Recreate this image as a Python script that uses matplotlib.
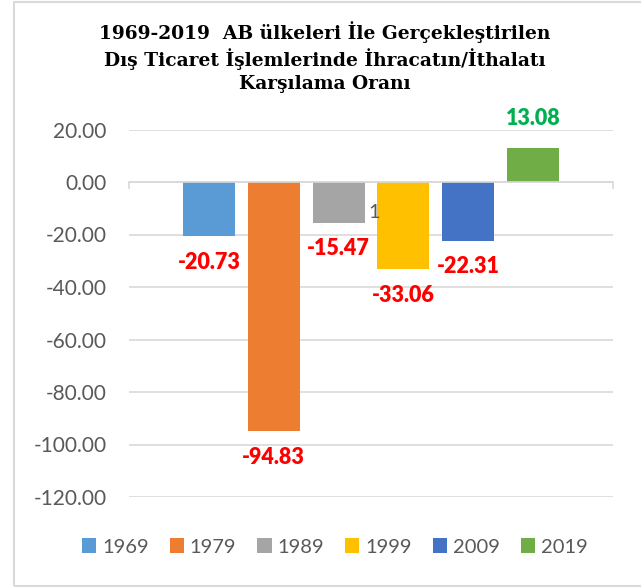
import matplotlib.pyplot as plt
from matplotlib.patches import Rectangle

# data
years = ['1969', '1979', '1989', '1999', '2009', '2019']
values = [-20.73, -94.83, -15.47, -33.06, -22.31, 13.08]
colors = ['#5b9bd5', '#ed7d31', '#a5a5a5', '#ffc000', '#4472c4', '#70ad47']
yticks = [20, 0, -20, -40, -60, -80, -100, -120]

title = ('1969-2019  AB ülkeleri İle Gerçekleştirilen\n'
         'Dış Ticaret İşlemlerinde İhracatın/İthalatı\n'
         'Karşılama Oranı')

grid_col = '#d9d9d9'
text_col = '#595959'

fig = plt.figure(figsize=(6.41, 5.88), dpi=100)
ax = fig.add_axes([129/641, 1 - 497/588, 484/641, (497 - 129.5)/588])

for i, (yr, v, c) in enumerate(zip(years, values, colors)):
    ax.bar(i, v, width=0.8, color=c, label=yr, zorder=3)
    lab_col = '#00b050' if v > 0 else '#ff0000'
    off = 21 if v > 0 else -19
    ax.annotate(f'{v:.2f}', (i, v), xytext=(0, off), textcoords='offset points',
                ha='center', va='center', color=lab_col, fontsize=15.5,
                fontweight='heavy', family='Lato', annotation_clip=False)

# stray label next to the 1989 bar
ax.annotate('1', (2.4, -11.8), xytext=(3, 0), textcoords='offset points',
            ha='left', va='center', color=text_col, fontsize=14.5, family='Lato')

ax.set_ylim(-120, 20)
ax.set_xlim(-1.235, 6.235)
ax.set_yticks(yticks)
ax.set_yticklabels([f'{t:.2f}' for t in yticks], family='Lato', fontsize=15, color=text_col)
ax.yaxis.grid(True, color=grid_col, lw=1.2, zorder=0)
ax.tick_params(axis='y', length=0, pad=16)

for s in ['top', 'right', 'left']:
    ax.spines[s].set_visible(False)
ax.spines['bottom'].set_position(('data', 0))
ax.spines['bottom'].set_color(grid_col)
ax.spines['bottom'].set_linewidth(1.2)
ax.spines['bottom'].set_zorder(4)
ax.set_xticks([-1.235, 6.235])
ax.set_xticklabels(['', ''])
ax.tick_params(axis='x', length=5, color=grid_col, width=1.2, direction='out')

fig.text(325/641, 1 - 57/588, title, ha='center', va='center', family='DejaVu Serif',
         fontweight='bold', fontsize=13.4, linespacing=1.3)

fig.legend(loc='center', bbox_to_anchor=(335/641, 1 - 547/588), ncol=6, frameon=False,
           prop={'family': 'Lato', 'size': 14.5}, labelcolor=text_col,
           handlelength=0.7, handleheight=0.7, handletextpad=0.3, columnspacing=1.05)

fig.add_artist(Rectangle((14/641, 1 - 586/588), 1.0, (584)/588, transform=fig.transFigure,
                         fill=False, edgecolor=grid_col, lw=1.5, clip_on=False))

fig.savefig('out.png', dpi=100)
